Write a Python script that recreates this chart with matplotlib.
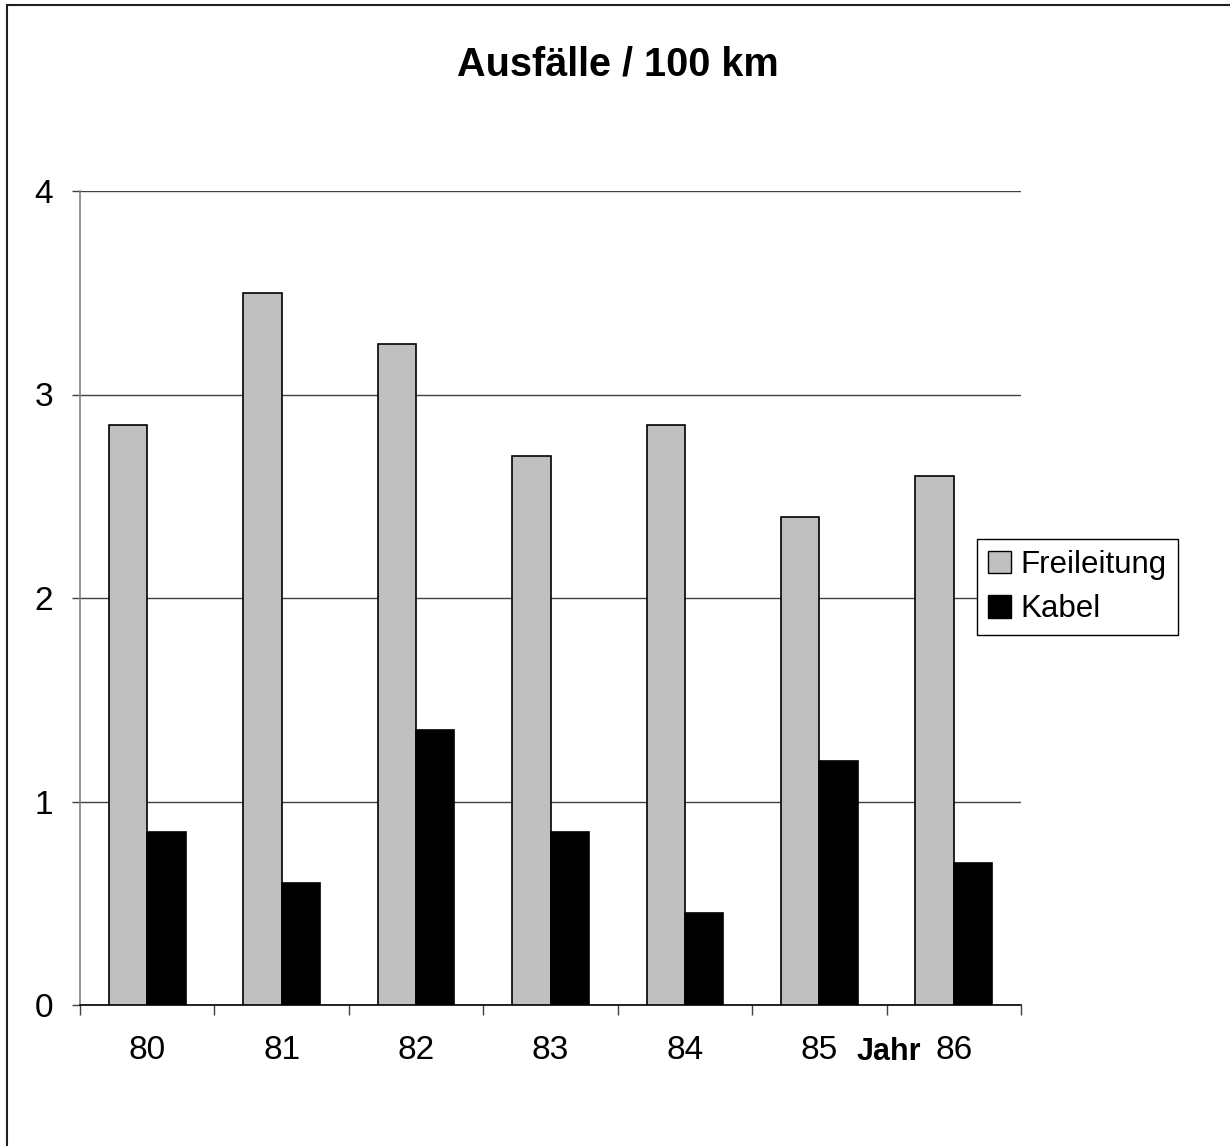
import matplotlib
matplotlib.use("Agg")
import matplotlib.pyplot as plt
from matplotlib.patches import Rectangle, Patch
import numpy as np

plt.rcParams['font.family'] = ['Liberation Sans', 'DejaVu Sans']

years = ["80", "81", "82", "83", "84", "85", "86"]
freileitung = [2.85, 3.50, 3.25, 2.70, 2.85, 2.40, 2.60]
kabel = [0.85, 0.60, 1.35, 0.85, 0.45, 1.20, 0.70]
y_ticks = [0, 1, 2, 3, 4]

W, H = 1230, 1146
PT = 0.72  # points per pixel at 100 dpi
fig = plt.figure(figsize=(W / 100, H / 100), dpi=100)
ax = fig.add_axes([80 / W, 1 - 1005 / H, 941 / W, 814 / H])

x = np.arange(len(years))
bw = 1 / 3.5  # two bars per category, gap width 150 %
ax.bar(x - bw / 2, freileitung, bw, color="#C0C0C0", edgecolor="black", linewidth=1.2, zorder=3)
ax.bar(x + bw / 2, kabel, bw, color="black", edgecolor="black", linewidth=1.2, zorder=3)

ax.set_xlim(-0.5, len(years) - 0.5)
ax.set_ylim(0, 4)
ax.set_yticks(y_ticks)
ax.set_yticklabels([str(v) for v in y_ticks], fontsize=24)
ax.yaxis.grid(True, color="#404040", linewidth=1.0, zorder=0)
ax.set_axisbelow(True)

# category labels centred, ticks on category boundaries
ax.set_xticks(x)
ax.set_xticklabels(years, fontsize=24)
ax.tick_params(axis="x", length=0, pad=30 * PT)
ax.set_xticks(np.arange(len(years) + 1) - 0.5, minor=True)
ax.tick_params(axis="x", which="minor", length=10 * PT, width=1.0, color="#404040", direction="out")
ax.tick_params(axis="y", length=8 * PT, width=1.0, color="#404040", direction="out", pad=19 * PT)

for s in ["top", "right"]:
    ax.spines[s].set_visible(False)
ax.spines["left"].set_color("#808080")
ax.spines["left"].set_linewidth(1.2)
ax.spines["bottom"].set_color("black")
ax.spines["bottom"].set_linewidth(1.2)

fig.text(618 / W, 1 - 65 / H, "Ausfälle / 100 km", ha="center", va="center",
         fontsize=28.5, fontweight="bold")
fig.text(889 / W, 1 - 1052 / H, "Jahr", ha="center", va="center",
         fontsize=22, fontweight="bold")

handles = [Patch(facecolor="#C0C0C0", edgecolor="black", linewidth=1.0),
           Patch(facecolor="black", edgecolor="black", linewidth=1.0)]
leg = fig.legend(handles, ["Freileitung", "Kabel"], loc="upper left",
                 bbox_to_anchor=(977 / W, 1 - 539 / H), fontsize=22.5,
                 frameon=True, fancybox=False, framealpha=1, edgecolor="black",
                 handlelength=0.75, handleheight=0.75, handletextpad=0.3,
                 borderpad=0.35, labelspacing=0.45, borderaxespad=0)
leg.get_frame().set_linewidth(1.0)

# page frame, open on the right and bottom edges
fig.patches.append(Rectangle((7 / W, -0.01), 1.05, 1 - 5 / H + 0.01, transform=fig.transFigure,
                             fill=False, edgecolor="#202020", linewidth=1.5, clip_on=False))

fig.savefig("out.png", dpi=100)
